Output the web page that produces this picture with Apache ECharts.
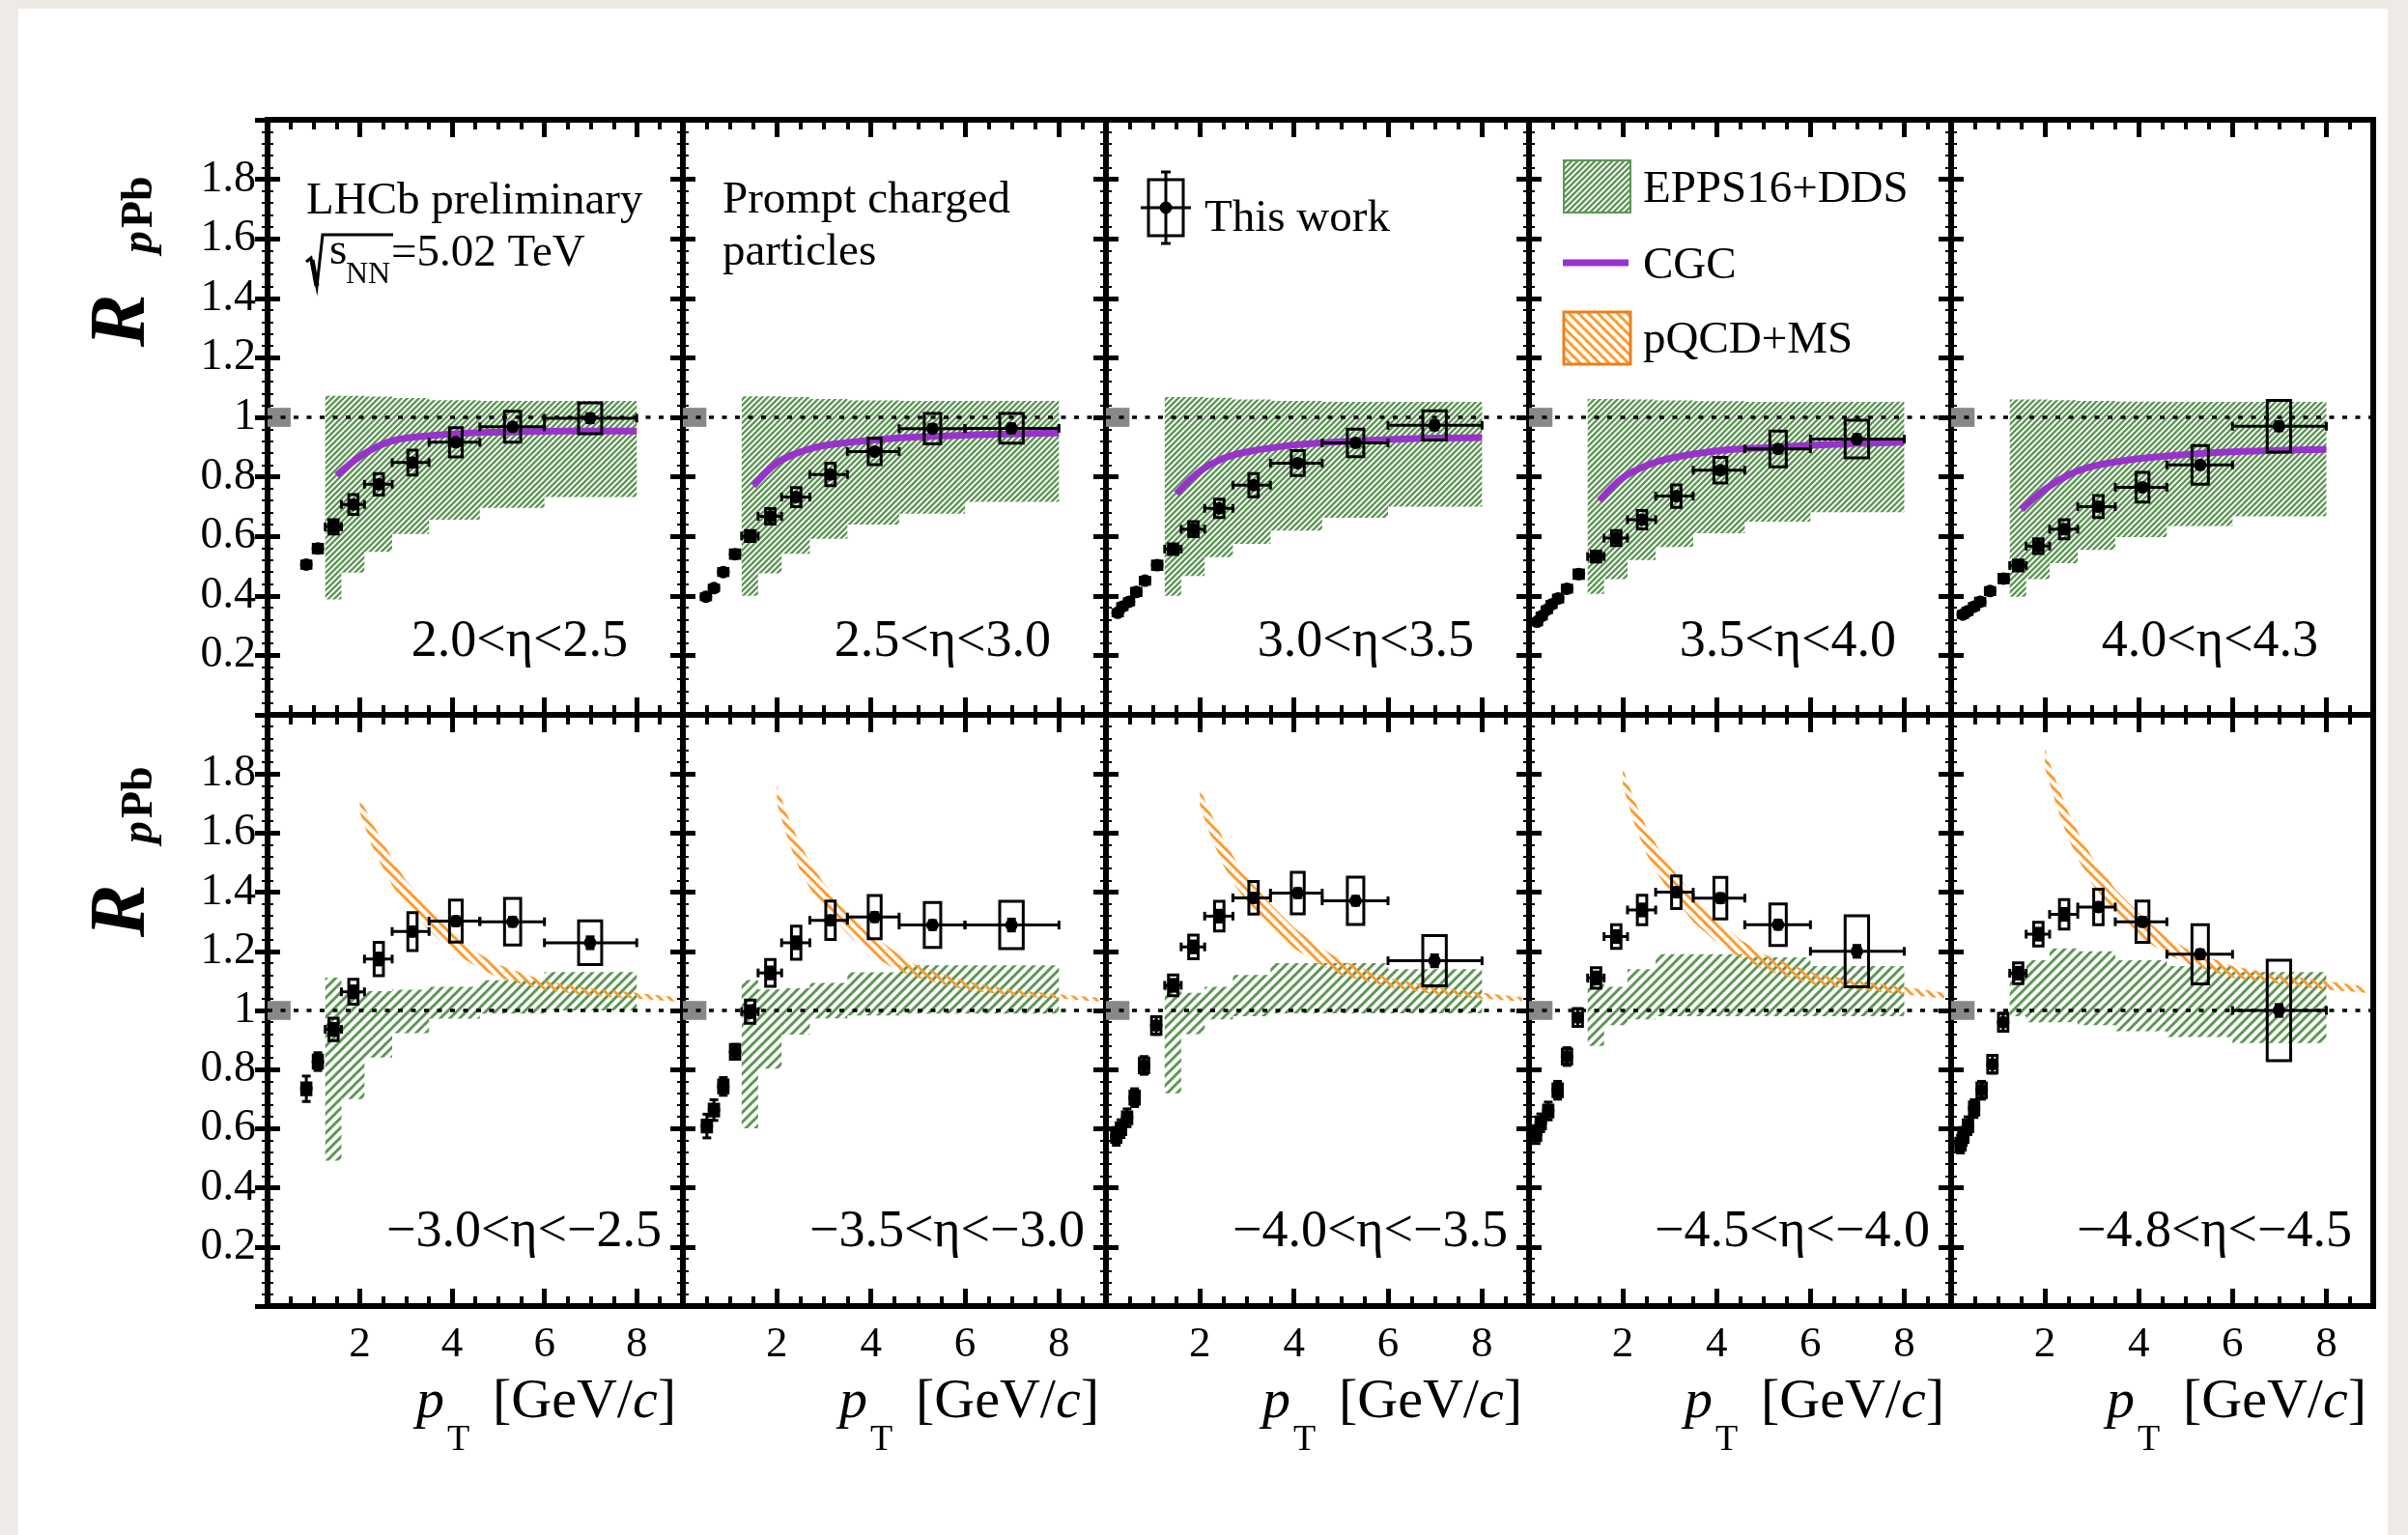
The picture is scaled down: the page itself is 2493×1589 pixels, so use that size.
<!DOCTYPE html>
<html>
<head>
<meta charset="utf-8">
<script src="https://cdn.jsdelivr.net/npm/echarts@6/dist/echarts.min.js"></script>
<style>
  html, body { margin: 0; padding: 0; background: #ffffff; }
  #chart { width: 2493px; height: 1589px; }
</style>
</head>
<body>
<div id="chart"></div>
<script>
// ---------------- data ----------------
// panels 0-4: forward rapidity (top row), panels 5-9: backward rapidity (bottom row)
const etaLabels = ['2.0<η<2.5', '2.5<η<3.0', '3.0<η<3.5', '3.5<η<4.0', '4.0<η<4.3',
  '−3.0<η<−2.5', '−3.5<η<−3.0', '−4.0<η<−3.5', '−4.5<η<−4.0', '−4.8<η<−4.5'];

// pT binning above 1.25 GeV/c (shared by all panels) and mean pT of each bin
const ptEdges = [1.25, 1.6, 2.1, 2.7, 3.5, 4.6, 6.0, 8.0];
const ptMean = [1.43, 1.86, 2.41, 3.14, 4.08, 5.31, 6.99];
const lowPtHalfWidth = 0.05;

// low-pT points (below 1.25 GeV/c)
const lowPt = [
  [0.84, 1.09],
  [0.49, 0.66, 0.86, 1.11],
  [0.25, 0.35, 0.49, 0.645, 0.83, 1.09],
  [0.17, 0.27, 0.38, 0.48, 0.62, 0.81, 1.06],
  [0.25, 0.35, 0.49, 0.62, 0.83, 1.12],
  [0.84, 1.09],
  [0.51, 0.66, 0.86, 1.11],
  [0.22, 0.32, 0.45, 0.61, 0.81, 1.07],
  [0.15, 0.25, 0.41, 0.61, 0.81, 1.04],
  [0.2, 0.26, 0.36, 0.49, 0.65, 0.88, 1.11]
];
const lowR = [
  [0.505, 0.559],
  [0.397, 0.426, 0.48, 0.54],
  [0.343, 0.364, 0.38, 0.413, 0.451, 0.503],
  [0.313, 0.332, 0.353, 0.371, 0.391, 0.424, 0.473],
  [0.337, 0.348, 0.364, 0.38, 0.416, 0.458],
  [0.735, 0.827],
  [0.609, 0.663, 0.743, 0.86],
  [0.574, 0.60, 0.637, 0.705, 0.814, 0.949],
  [0.58, 0.62, 0.66, 0.73, 0.844, 0.976],
  [0.548, 0.574, 0.61, 0.668, 0.73, 0.818, 0.96]
];
const lowStat = [
  [0.012, 0.01],
  [0.01, 0.01, 0.01, 0.01],
  [0.01, 0.01, 0.01, 0.01, 0.01, 0.01],
  [0.01, 0.01, 0.01, 0.01, 0.01, 0.01, 0.01],
  [0.01, 0.01, 0.01, 0.01, 0.01, 0.01],
  [0.043, 0.03],
  [0.04, 0.035, 0.03, 0.025],
  [0.03, 0.03, 0.03, 0.03, 0.03, 0.03],
  [0.03, 0.03, 0.03, 0.03, 0.03, 0.03],
  [0.03, 0.03, 0.03, 0.03, 0.03, 0.03, 0.03]
];
const lowSys = [
  [0.012, 0.014],
  [0.01, 0.01, 0.012, 0.014],
  [0.01, 0.01, 0.01, 0.012, 0.012, 0.014],
  [0.01, 0.01, 0.01, 0.01, 0.012, 0.012, 0.014],
  [0.01, 0.01, 0.01, 0.012, 0.012, 0.014],
  [0.02, 0.022],
  [0.02, 0.02, 0.022, 0.025],
  [0.02, 0.02, 0.02, 0.022, 0.025, 0.03],
  [0.02, 0.02, 0.02, 0.022, 0.025, 0.03],
  [0.02, 0.02, 0.02, 0.022, 0.025, 0.03, 0.03]
];
const highR = [
  [0.632, 0.707, 0.775, 0.848, 0.916, 0.968, 0.997],
  [0.601, 0.667, 0.732, 0.808, 0.885, 0.962, 0.963],
  [0.557, 0.624, 0.694, 0.772, 0.846, 0.914, 0.973],
  [0.532, 0.594, 0.656, 0.735, 0.822, 0.894, 0.927],
  [0.502, 0.567, 0.624, 0.700, 0.765, 0.840, 0.970],
  [0.936, 1.063, 1.174, 1.267, 1.302, 1.300, 1.229],
  [0.996, 1.127, 1.229, 1.305, 1.316, 1.289, 1.289],
  [1.085, 1.215, 1.319, 1.381, 1.397, 1.371, 1.168],
  [1.110, 1.250, 1.340, 1.400, 1.380, 1.290, 1.200],
  [1.126, 1.258, 1.325, 1.350, 1.300, 1.190, 1.000]
];
const highStat = [
  [0.008, 0.008, 0.008, 0.008, 0.01, 0.012, 0.015],
  [0.008, 0.008, 0.008, 0.008, 0.01, 0.012, 0.015],
  [0.008, 0.008, 0.008, 0.008, 0.01, 0.012, 0.015],
  [0.008, 0.008, 0.008, 0.008, 0.01, 0.012, 0.015],
  [0.008, 0.008, 0.008, 0.008, 0.01, 0.012, 0.015],
  [0.02, 0.02, 0.02, 0.015, 0.015, 0.015, 0.02],
  [0.02, 0.02, 0.02, 0.015, 0.015, 0.015, 0.02],
  [0.02, 0.02, 0.02, 0.015, 0.015, 0.015, 0.02],
  [0.02, 0.02, 0.02, 0.015, 0.015, 0.015, 0.02],
  [0.02, 0.02, 0.02, 0.015, 0.015, 0.015, 0.02]
];
const highSys = [
  [0.024, 0.033, 0.036, 0.042, 0.049, 0.052, 0.052],
  [0.018, 0.026, 0.032, 0.038, 0.044, 0.051, 0.050],
  [0.018, 0.025, 0.031, 0.039, 0.042, 0.046, 0.049],
  [0.018, 0.025, 0.031, 0.038, 0.043, 0.060, 0.063],
  [0.018, 0.025, 0.032, 0.037, 0.050, 0.065, 0.087],
  [0.038, 0.042, 0.056, 0.064, 0.071, 0.079, 0.074],
  [0.039, 0.045, 0.056, 0.065, 0.073, 0.076, 0.080],
  [0.035, 0.040, 0.050, 0.055, 0.070, 0.080, 0.085],
  [0.035, 0.040, 0.050, 0.055, 0.070, 0.070, 0.120],
  [0.035, 0.040, 0.050, 0.060, 0.070, 0.100, 0.170]
];

// EPPS16+DDS band, per pT bin
const eppsUpper = [
  [1.072, 1.072, 1.070, 1.065, 1.058, 1.055, 1.055],
  [1.071, 1.071, 1.068, 1.062, 1.057, 1.055, 1.055],
  [1.068, 1.068, 1.066, 1.060, 1.055, 1.052, 1.052],
  [1.062, 1.062, 1.060, 1.057, 1.054, 1.052, 1.052],
  [1.060, 1.060, 1.058, 1.055, 1.053, 1.052, 1.052],
  [1.111, 1.065, 1.065, 1.070, 1.080, 1.102, 1.130],
  [1.103, 1.071, 1.075, 1.093, 1.129, 1.153, 1.153],
  [1.090, 1.060, 1.080, 1.120, 1.160, 1.160, 1.140],
  [1.100, 1.080, 1.140, 1.190, 1.190, 1.180, 1.150],
  [1.130, 1.170, 1.210, 1.200, 1.170, 1.150, 1.130]
];
const eppsLower = [
  [0.388, 0.478, 0.548, 0.608, 0.656, 0.696, 0.732],
  [0.400, 0.476, 0.541, 0.592, 0.640, 0.676, 0.716],
  [0.400, 0.467, 0.530, 0.575, 0.619, 0.662, 0.700],
  [0.407, 0.456, 0.520, 0.564, 0.610, 0.649, 0.681],
  [0.397, 0.456, 0.510, 0.554, 0.597, 0.635, 0.667],
  [0.492, 0.700, 0.841, 0.923, 0.972, 0.989, 1.000],
  [0.601, 0.803, 0.918, 0.973, 0.983, 0.989, 0.989],
  [0.720, 0.920, 0.970, 0.980, 0.990, 0.990, 0.990],
  [0.880, 0.950, 0.970, 0.980, 0.980, 0.980, 0.980],
  [0.980, 0.960, 0.960, 0.950, 0.930, 0.910, 0.890]
];

// CGC curves (forward panels)
const cgcPt = [1.5, 2.0, 2.5, 3.0, 4.0, 5.0, 6.0, 7.0, 8.0];
const cgcR = [
  [0.805, 0.868, 0.910, 0.930, 0.944, 0.950, 0.953, 0.954, 0.954],
  [0.770, 0.847, 0.884, 0.905, 0.923, 0.934, 0.940, 0.944, 0.947],
  [0.743, 0.819, 0.862, 0.884, 0.907, 0.918, 0.925, 0.930, 0.932],
  [0.720, 0.797, 0.838, 0.862, 0.887, 0.898, 0.906, 0.912, 0.916],
  [0.690, 0.758, 0.806, 0.835, 0.861, 0.875, 0.884, 0.889, 0.892]
];

// pQCD+MS band (backward panels)
const msPt = [2.0, 2.25, 2.5, 2.75, 3.0, 3.5, 4.0, 4.5, 5.0, 6.0, 7.0, 8.0, 8.85];
const msUpper = [
  [1.72, 1.64, 1.57, 1.50, 1.44, 1.35, 1.27, 1.20, 1.155, 1.10, 1.075, 1.06, 1.045],
  [1.76, 1.65, 1.56, 1.49, 1.43, 1.34, 1.26, 1.20, 1.15, 1.10, 1.07, 1.055, 1.043],
  [1.75, 1.66, 1.58, 1.51, 1.45, 1.36, 1.28, 1.22, 1.17, 1.11, 1.08, 1.06, 1.045],
  [1.82, 1.71, 1.62, 1.55, 1.49, 1.39, 1.31, 1.24, 1.19, 1.13, 1.10, 1.08, 1.06],
  [1.885, 1.77, 1.67, 1.59, 1.52, 1.41, 1.33, 1.26, 1.21, 1.15, 1.12, 1.10, 1.08]
];
const msLower = [
  [1.67, 1.56, 1.48, 1.41, 1.36, 1.27, 1.20, 1.15, 1.11, 1.07, 1.05, 1.04, 1.03],
  [1.70, 1.57, 1.47, 1.40, 1.35, 1.26, 1.19, 1.14, 1.11, 1.07, 1.05, 1.04, 1.03],
  [1.69, 1.58, 1.49, 1.42, 1.37, 1.28, 1.21, 1.16, 1.12, 1.08, 1.055, 1.04, 1.03],
  [1.76, 1.63, 1.53, 1.46, 1.40, 1.30, 1.23, 1.18, 1.14, 1.09, 1.07, 1.055, 1.04],
  [1.82, 1.69, 1.58, 1.50, 1.43, 1.33, 1.25, 1.20, 1.16, 1.11, 1.09, 1.07, 1.06]
];

// normalisation uncertainty drawn at R = 1
const normUnc = 0.032;

// ---------------- layout & style ----------------
const FONT = '"Liberation Serif", "Times New Roman", serif';
const colLeft = [277, 707, 1145, 1583, 2020];
const colRight = [707, 1145, 1583, 2020, 2457];
const rowTop = [124, 740];
const rowBottom = [740, 1352];
const GREEN = '#5e9656';
const ORANGE = '#ff9a2c';
const PURPLE = '#9932cc';

function hatchPattern(color, period, width, forward) {
  const c = document.createElement('canvas');
  c.width = period; c.height = period;
  const g = c.getContext('2d');
  g.strokeStyle = color;
  g.lineWidth = width;
  g.beginPath();
  for (let k = -1; k <= 2; k++) {
    if (forward) { g.moveTo(-1, k * period + 1); g.lineTo(period + 1, (k - 1) * period - 1); }
    else { g.moveTo(-1, k * period - 1); g.lineTo(period + 1, (k + 1) * period + 1); }
  }
  g.stroke();
  return { image: c, repeat: 'repeat' };
}
const greenFine = hatchPattern(GREEN, 6, 2.4, true);
const greenCoarse = hatchPattern(GREEN, 10, 3, true);
const orangeHatch = hatchPattern(ORANGE, 10, 3, false);

function fmtY(v) { return (v > 0.01 && v < 1.99) ? String(+v.toFixed(1)) : ''; }
function fmtX(v) { return (v > 0.5 && v < 8.5) ? String(Math.round(v)) : ''; }

// ---------------- build option ----------------
const grids = [], xAxes = [], yAxes = [], series = [];

for (let p = 0; p < 10; p++) {
  const row = p < 5 ? 0 : 1, col = p % 5;
  grids.push({
    left: colLeft[col], top: rowTop[row],
    width: colRight[col] - colLeft[col], height: rowBottom[row] - rowTop[row],
    show: true, borderColor: '#000', borderWidth: 6, backgroundColor: 'rgba(0,0,0,0)'
  });

  const xb = { gridIndex: p, type: 'value', min: 0, max: 9, axisLine: { show: false }, splitLine: { show: false } };
  const majorTickX = { inside: true, length: 18, lineStyle: { color: '#000', width: 5 } };
  const minorTickX = { inside: true, length: 10, lineStyle: { color: '#000', width: 4 } };
  xAxes.push(Object.assign({}, xb, { position: 'bottom', interval: 2, axisTick: majorTickX,
    axisLabel: { show: row === 1, margin: 18, fontSize: 45, fontFamily: FONT, color: '#000', formatter: fmtX } }));
  xAxes.push(Object.assign({}, xb, { position: 'bottom', interval: 0.5, axisTick: minorTickX, axisLabel: { show: false } }));
  xAxes.push(Object.assign({}, xb, { position: 'top', interval: 2, axisTick: majorTickX, axisLabel: { show: false } }));
  xAxes.push(Object.assign({}, xb, { position: 'top', interval: 0.5, axisTick: minorTickX, axisLabel: { show: false } }));

  const yb = { gridIndex: p, type: 'value', min: 0, max: 2, interval: 0.2, axisLine: { show: false }, splitLine: { show: false },
    axisTick: { inside: true, length: 13, lineStyle: { color: '#000', width: 5 } },
    minorTick: { show: true, splitNumber: 5, length: 6, lineStyle: { color: '#000', width: 2 } } };
  yAxes.push(Object.assign({}, yb, { position: 'left',
    axisLabel: { show: col === 0, margin: 12, fontSize: 46, fontFamily: FONT, color: '#000', formatter: fmtY } }));
  yAxes.push(Object.assign({}, yb, { position: 'right', axisLabel: { show: false } }));

  const xi = 4 * p, yi = 2 * p;

  // EPPS16+DDS stepped band
  const up = eppsUpper[p], lo = eppsLower[p];
  const bandFill = row === 0 ? greenFine : greenCoarse;
  series.push({
    type: 'custom', xAxisIndex: xi, yAxisIndex: yi, z: 1, silent: true,
    data: [[ptEdges[0], lo[0]]],
    renderItem: function (params, api) {
      const pts = [];
      for (let i = 0; i < up.length; i++) {
        pts.push(api.coord([ptEdges[i], up[i]]));
        pts.push(api.coord([ptEdges[i + 1], up[i]]));
      }
      for (let i = lo.length - 1; i >= 0; i--) {
        pts.push(api.coord([ptEdges[i + 1], lo[i]]));
        pts.push(api.coord([ptEdges[i], lo[i]]));
      }
      return { type: 'polygon', shape: { points: pts }, style: { fill: bandFill } };
    }
  });

  // pQCD+MS band
  if (row === 1) {
    const mu = msUpper[col], ml = msLower[col];
    series.push({
      type: 'custom', xAxisIndex: xi, yAxisIndex: yi, z: 2, silent: true,
      data: [[msPt[0], mu[0]]],
      renderItem: function (params, api) {
        const pts = [];
        for (let i = 0; i < msPt.length; i++) pts.push(api.coord([msPt[i], mu[i]]));
        for (let i = msPt.length - 1; i >= 0; i--) pts.push(api.coord([msPt[i], ml[i]]));
        return { type: 'polygon', shape: { points: pts }, style: { fill: orangeHatch } };
      }
    });
  }

  // reference line at R = 1
  series.push({
    type: 'line', xAxisIndex: xi, yAxisIndex: yi, z: 3, silent: true, symbol: 'none',
    data: [[0, 1], [9, 1]],
    lineStyle: { color: '#000', width: 3.5, type: [5, 8.5] }
  });

  // normalisation uncertainty box
  series.push({
    type: 'custom', xAxisIndex: xi, yAxisIndex: yi, z: 3, silent: true,
    data: [[0, 1]],
    renderItem: function (params, api) {
      const a = api.coord([0, 1 + normUnc]), b = api.coord([0.5, 1 - normUnc]);
      return { type: 'rect', shape: { x: a[0], y: a[1], width: b[0] - a[0], height: b[1] - a[1] }, style: { fill: '#888888' } };
    }
  });

  // CGC
  if (row === 0) {
    series.push({
      type: 'line', xAxisIndex: xi, yAxisIndex: yi, z: 4, silent: true, symbol: 'none', smooth: 0.35,
      data: cgcPt.map((x, i) => [x, cgcR[col][i]]),
      lineStyle: { color: PURPLE, width: 7 }
    });
  }

  // measured points: [pT, R, pTlow, pThigh, stat, sys, boxHalfWidth]
  const pts = [];
  lowPt[p].forEach((x, i) => pts.push([x, lowR[p][i], x - lowPtHalfWidth, x + lowPtHalfWidth, lowStat[p][i], lowSys[p][i], 0.1]));
  ptMean.forEach((x, i) => {
    const w = ptEdges[i + 1] - ptEdges[i];
    pts.push([x, highR[p][i], ptEdges[i], ptEdges[i + 1], highStat[p][i], highSys[p][i], Math.max(0.1, 0.125 * w)]);
  });
  series.push({
    type: 'custom', xAxisIndex: xi, yAxisIndex: yi, z: 5, silent: true,
    data: pts,
    encode: { x: 0, y: 1 },
    renderItem: function (params, api) {
      const x = api.value(0), y = api.value(1);
      const c = api.coord([x, y]);
      const l = api.coord([api.value(2), y]), h = api.coord([api.value(3), y]);
      const st = api.value(4), sy = api.value(5), bw = api.value(6);
      const sT = api.coord([x, y + st]), sB = api.coord([x, y - st]);
      const bA = api.coord([x - bw, y + sy]), bB = api.coord([x + bw, y - sy]);
      const lw = 3, cap = 4.5;
      const kids = [];
      const seg = (x1, y1, x2, y2) => kids.push({ type: 'line', shape: { x1, y1, x2, y2 }, style: { stroke: '#000', lineWidth: lw } });
      seg(l[0], c[1], h[0], c[1]);
      if (h[0] - l[0] > 14) {
        seg(l[0], c[1] - cap, l[0], c[1] + cap);
        seg(h[0], c[1] - cap, h[0], c[1] + cap);
      }
      seg(c[0], sT[1], c[0], sB[1]);
      seg(c[0] - cap, sT[1], c[0] + cap, sT[1]);
      seg(c[0] - cap, sB[1], c[0] + cap, sB[1]);
      kids.push({ type: 'rect', shape: { x: bA[0], y: bA[1], width: bB[0] - bA[0], height: bB[1] - bA[1] },
        style: { fill: 'none', stroke: '#000', lineWidth: lw } });
      kids.push({ type: 'circle', shape: { cx: c[0], cy: c[1], r: 6.5 }, style: { fill: '#000' } });
      return { type: 'group', children: kids };
    }
  });
}

// ---------------- text & legend ----------------
const graphic = [];

// page margin tint around the white plotting sheet
graphic.push({ type: 'rect', z: -10, silent: true, shape: { x: 0, y: 0, width: 2493, height: 1589 }, style: { fill: '#eeebe7' } });
graphic.push({ type: 'rect', z: -9, silent: true, shape: { x: 19, y: 9, width: 2453, height: 1580 }, style: { fill: '#ffffff' } });

const MID = 0.34; // distance from em-middle to baseline, in em
function text(x, baseline, str, size, extra) {
  graphic.push({
    type: 'text', x: x, y: baseline - MID * size, z: 100, silent: true,
    style: Object.assign({ text: str, fontSize: size, fontFamily: FONT, fill: '#000', align: 'left', verticalAlign: 'middle' }, extra || {})
  });
}
function vtext(baselineX, startY, str, size, extra) {
  graphic.push({
    type: 'text', x: baselineX - MID * size, y: startY, rotation: Math.PI / 2, z: 100, silent: true,
    style: Object.assign({ text: str, fontSize: size, fontFamily: FONT, fill: '#000', fontWeight: 'bold', align: 'left', verticalAlign: 'middle' }, extra || {})
  });
}

// y-axis titles
[0, 611].forEach(dy => {
  vtext(156, 359 + dy, 'R', 82, { fontStyle: 'italic' });
  vtext(161, 262 + dy, 'p', 46, { fontStyle: 'italic' });
  vtext(161, 236 + dy, 'Pb', 46);
});

// x-axis titles and eta ranges
for (let col = 0; col < 5; col++) {
  const r = colRight[col];
  text(r - 276, 1471, 'p', 58, { fontStyle: 'italic' });
  text(r - 244, 1504, 'T', 38);
  graphic.push({
    type: 'text', x: r - 7, y: 1471 - MID * 58, z: 100, silent: true,
    style: { text: '{n|[GeV/}{i|c}{n|]}', align: 'right', verticalAlign: 'middle', fontSize: 58, fontFamily: FONT, fill: '#000',
      rich: { n: { fontSize: 58, fontFamily: FONT }, i: { fontSize: 58, fontFamily: FONT, fontStyle: 'italic' } } }
  });
  text(r - 57, 683, etaLabels[col], 54, { align: 'right' });
  text(r - 22, 1294, etaLabels[col + 5], 54, { align: 'right' });
}

// panel annotations
text(317, 225, 'LHCb preliminary', 47);
graphic.push({ type: 'polyline', z: 100, silent: true,
  shape: { points: [[317, 271], [322, 267], [328, 297], [334, 243], [407, 243]] },
  style: { stroke: '#000', lineWidth: 3, fill: null } });
graphic.push({ type: 'polyline', z: 100, silent: true,
  shape: { points: [[323, 269], [328, 296]] }, style: { stroke: '#000', lineWidth: 5, fill: null } });
text(341, 277, 's', 47);
text(358, 295, 'NN', 32);
text(405, 279, '=5.02 TeV', 47);
text(748, 224, 'Prompt charged', 47);
text(748, 278, 'particles', 47);

// legend: measured points
(function () {
  const cx = 1207, cy = 215;
  const st = { stroke: '#000', lineWidth: 3 };
  graphic.push({ type: 'rect', z: 100, silent: true, shape: { x: cx - 18, y: cy - 29, width: 36, height: 58 }, style: Object.assign({ fill: null }, st) });
  graphic.push({ type: 'line', z: 100, silent: true, shape: { x1: cx, y1: cy - 37, x2: cx, y2: cy + 37 }, style: st });
  graphic.push({ type: 'line', z: 100, silent: true, shape: { x1: cx - 5, y1: cy - 37, x2: cx + 5, y2: cy - 37 }, style: st });
  graphic.push({ type: 'line', z: 100, silent: true, shape: { x1: cx - 5, y1: cy + 37, x2: cx + 5, y2: cy + 37 }, style: st });
  graphic.push({ type: 'line', z: 100, silent: true, shape: { x1: cx - 26, y1: cy, x2: cx + 26, y2: cy }, style: st });
  graphic.push({ type: 'circle', z: 100, silent: true, shape: { cx: cx, cy: cy, r: 6.5 }, style: { fill: '#000' } });
  text(1247, 243, 'This work', 47);
})();

// legend: models
graphic.push({ type: 'rect', z: 100, silent: true, shape: { x: 1619, y: 166, width: 69, height: 54 }, style: { fill: greenFine, stroke: GREEN, lineWidth: 2 } });
text(1701, 213, 'EPPS16+DDS', 47);
graphic.push({ type: 'line', z: 100, silent: true, shape: { x1: 1618, y1: 272, x2: 1686, y2: 272 }, style: { stroke: PURPLE, lineWidth: 7 } });
text(1701, 292, 'CGC', 47);
graphic.push({ type: 'rect', z: 100, silent: true, shape: { x: 1619, y: 323, width: 69, height: 54 }, style: { fill: orangeHatch, stroke: '#e8801f', lineWidth: 3 } });
text(1701, 369, 'pQCD+MS', 47);

const chart = echarts.init(document.getElementById('chart'), null, { renderer: 'canvas', width: 2493, height: 1589 });
chart.setOption({
  animation: false,
  backgroundColor: '#ffffff',
  grid: grids,
  xAxis: xAxes,
  yAxis: yAxes,
  series: series,
  graphic: graphic
});
</script>
</body>
</html>
